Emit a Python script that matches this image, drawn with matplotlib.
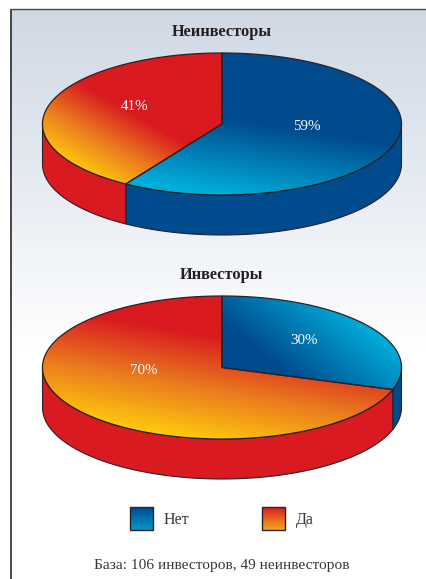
import numpy as np
import matplotlib
matplotlib.use('Agg')
import matplotlib.pyplot as plt
from matplotlib.colors import LinearSegmentedColormap
from matplotlib.patches import Polygon, Rectangle

plt.rcParams['font.family'] = ['Liberation Serif', 'DejaVu Serif']

# data
titles = ['Неинвесторы', 'Инвесторы']
categories = ['Нет', 'Да']
non_investors = [59, 41]
investors = [30, 70]
note = 'База: 106 инвесторов, 49 неинвесторов'

DARK_BLUE = '#004b8d'
CYAN = '#00aedb'
RED = '#d91a20'
ORANGE = '#ea7a1e'
YELLOW = '#ffc90e'
LINE = '#2a2226'

blue_map = LinearSegmentedColormap.from_list('blue', [DARK_BLUE, CYAN])
red_map = LinearSegmentedColormap.from_list('red', [RED, ORANGE, YELLOW])
back_map = LinearSegmentedColormap.from_list('back', ['#cfd8e4', '#e6ebf2', '#ffffff'])

fig = plt.figure(figsize=(4.26, 5.79), dpi=100)
ax = fig.add_axes([0, 0, 1, 1])
ax.set_xlim(0, 426)
ax.set_ylim(579, 0)
ax.axis('off')


def gradient(cmap, start, end, box, clip=None, zorder=2):
    # linear gradient from start to end, painted over box and clipped to a patch
    x0, x1, y0, y1 = box
    xx, yy = np.meshgrid(np.linspace(x0, x1, 300), np.linspace(y0, y1, 300))
    dx, dy = end[0] - start[0], end[1] - start[1]
    t = ((xx - start[0]) * dx + (yy - start[1]) * dy) / (dx * dx + dy * dy)
    im = ax.imshow(np.clip(t, 0, 1), cmap=cmap, vmin=0, vmax=1, extent=(x0, x1, y1, y0),
                   origin='upper', aspect='auto', interpolation='bilinear', zorder=zorder)
    if clip is not None:
        im.set_clip_path(clip)
    return im


def rim(cx, cy, rx, ry, t):
    return cx + rx * np.sin(t), cy - ry * np.cos(t)


def draw_pie(values, cx, cy, rx, ry, depth, grads):
    edges = np.cumsum([0] + values) / sum(values) * 2 * np.pi
    side_colors = [DARK_BLUE, RED]
    # side wall first
    for i in range(2):
        a = max(edges[i], np.pi / 2)
        b = min(edges[i + 1], 3 * np.pi / 2)
        if b <= a:
            continue
        t = np.linspace(a, b, 120)
        x, y = rim(cx, cy, rx, ry, t)
        pts = np.r_[np.c_[x, y], np.c_[x, y + depth][::-1]]
        ax.add_patch(Polygon(pts, closed=True, fc=side_colors[i], ec=LINE, lw=0.8, zorder=1))
    # top slices
    for i, (cmap, start, end) in enumerate(grads):
        t = np.linspace(edges[i], edges[i + 1], 240)
        x, y = rim(cx, cy, rx, ry, t)
        pts = np.r_[[[cx, cy]], np.c_[x, y]]
        wedge = Polygon(pts, closed=True, fc='none', ec=LINE, lw=0.9, zorder=3)
        ax.add_patch(wedge)
        gradient(cmap, start, end, (cx - rx - 2, cx + rx + 2, cy - ry - 2, cy + ry + 2), clip=wedge)


# panel
gradient(back_map, (0, 9), (0, 350), (11, 426, 579, 9), zorder=0)
ax.plot([11, 11], [579, 9], color='#2a2a2a', lw=1.2, zorder=1, solid_capstyle='butt')
ax.plot([11, 426], [9, 9], color='#4a4a4a', lw=1.0, zorder=1, solid_capstyle='butt')

draw_pie(non_investors, 222, 124, 179.5, 71, 40,
         [(blue_map, (236, 120), (224, 195)), (red_map, (130, 112), (92, 178))])
draw_pie(investors, 222, 367.5, 179.5, 71.5, 40,
         [(blue_map, (272, 362), (328, 292)), (red_map, (226, 338), (208, 442))])

ax.set_xlim(0, 426)
ax.set_ylim(579, 0)

ax.text(222, 32, titles[0], ha='center', va='center', fontsize=11.8, fontweight='bold', color='#231f20')
ax.text(222, 275, titles[1], ha='center', va='center', fontsize=11.8, fontweight='bold', color='#231f20')

for label, x, y in [(non_investors[0], 307, 126), (non_investors[1], 135, 107),
                    (investors[0], 304, 340), (investors[1], 144, 370)]:
    ax.text(x, y, '%d%%' % label, ha='center', va='center', fontsize=10.8, color='white', zorder=5)

# legend
for x, cmap, name in [(130, blue_map, categories[0]), (262, red_map, categories[1])]:
    box = Rectangle((x, 507), 23, 23, fc='none', ec=LINE, lw=1.0, zorder=4)
    ax.add_patch(box)
    gradient(cmap, (x, 507), (x, 536), (x, x + 23, 507, 530), clip=box, zorder=3)
    ax.text(x + 34, 520, name, ha='left', va='center', fontsize=11.5, color='#3a3536')

ax.text(222, 565, note, ha='center', va='center', fontsize=11.1, color='#3a3536')

ax.set_xlim(0, 426)
ax.set_ylim(579, 0)
fig.savefig('out.png', dpi=100)
